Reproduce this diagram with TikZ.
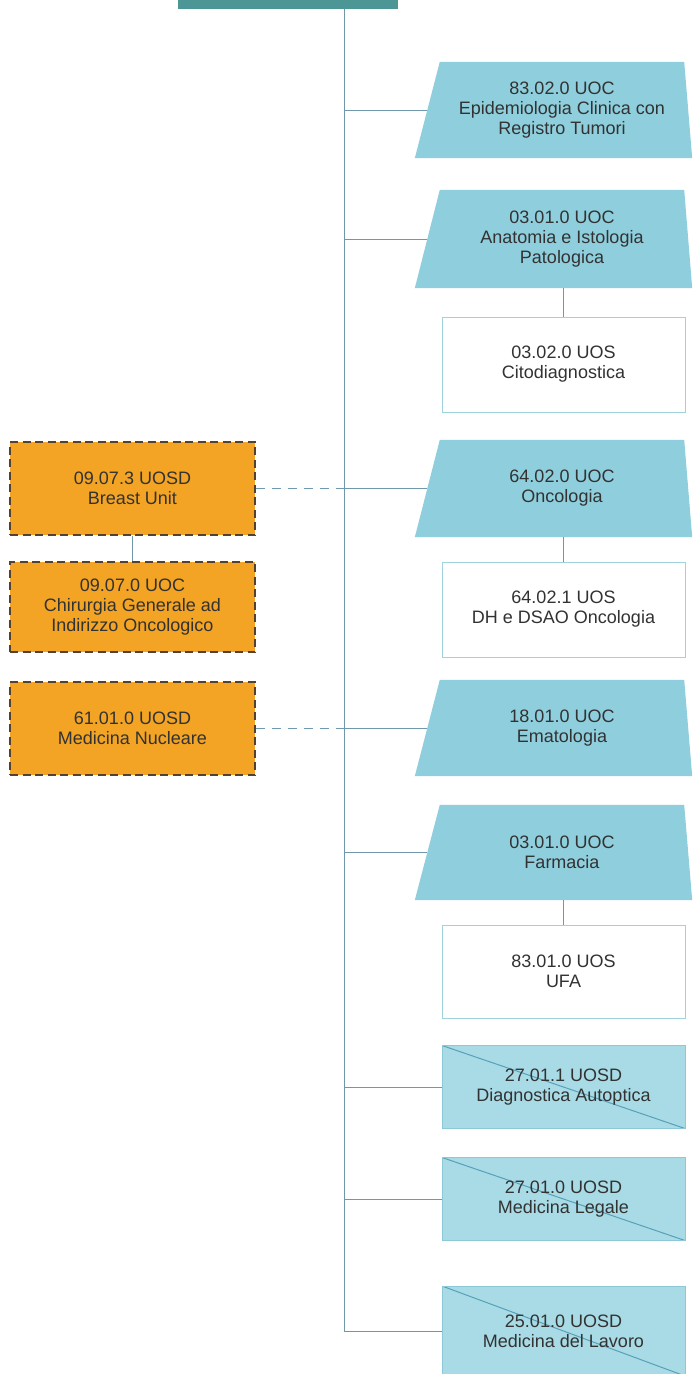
\documentclass[tikz,border=0pt]{standalone}
\usepackage{fontspec}
\setmainfont{Liberation Sans}
\usetikzlibrary{backgrounds}
\definecolor{tealc}{RGB}{76,150,150}
\definecolor{trapc}{RGB}{143,207,221}
\definecolor{hatchc}{RGB}{168,219,229}
\definecolor{hatchb}{RGB}{140,200,214}
\definecolor{diagc}{RGB}{88,160,186}
\definecolor{whiteb}{RGB}{160,210,220}
\definecolor{orangec}{RGB}{243,164,36}
\definecolor{orangeb}{RGB}{85,65,45}
\definecolor{connc}{RGB}{112,152,172}
\definecolor{txtc}{RGB}{50,50,50}
\tikzset{
  lbl/.style={align=center, text=txtc, font=\fontsize{18}{20}\selectfont, inner sep=0pt},
  trapn/.style={lbl, minimum width=244, minimum height=#1},
  whiten/.style={lbl, draw=whiteb, line width=1pt, fill=white, minimum width=243, minimum height=#1},
  hatchn/.style={lbl, draw=hatchb, line width=1pt, fill=hatchc, minimum width=243, minimum height=#1,
    path picture={\draw[diagc, line width=1pt] (path picture bounding box.north west) -- (path picture bounding box.south east);}},
  orangen/.style={lbl, draw=orangeb, fill=orangec, line width=1.6pt, dash pattern=on 8pt off 4.5pt, minimum width=245, minimum height=#1},
  conn/.style={draw=connc, line width=1pt},
  dconn/.style={draw=connc, line width=1pt, dash pattern=on 9pt off 7pt},
}
\newcommand\trapbg[1]{\begin{scope}[on background layer]\fill[trapc] (#1.north west) -- (#1.north east) -- ([xshift=8]#1.south east) -- ([xshift=-25]#1.south west) -- cycle;\end{scope}}
\begin{document}
\begin{tikzpicture}[x=1pt,y=-1pt]
\useasboundingbox (0,0) rectangle (693,1374);
\clip (0,0) rectangle (693,1374);
\begin{scope}[on background layer]
\fill[white] (0,0) rectangle (693,1374);
\end{scope}
% top box
\node[fill=tealc, minimum width=220, minimum height=30, inner sep=0pt] (top) at (288,-6) {};
\coordinate (sp) at (344,0);
% right column
\node[trapn=96] (t1) at (562,110) {83.02.0 UOC\\Epidemiologia Clinica con\\Registro Tumori};
\trapbg{t1}
\node[trapn=98] (t2) at (562,239) {03.01.0 UOC\\Anatomia e Istologia\\Patologica};
\trapbg{t2}
\node[whiten=95] (w1) at (563.5,364.5) {03.02.0 UOS\\Citodiagnostica};
\node[trapn=97] (t3) at (562,488.5) {64.02.0 UOC\\Oncologia};
\trapbg{t3}
\node[whiten=95] (w2) at (563.5,609.5) {64.02.1 UOS\\DH e DSAO Oncologia};
\node[trapn=96] (t4) at (562,728) {18.01.0 UOC\\Ematologia};
\trapbg{t4}
\node[trapn=95] (t5) at (562,852.5) {03.01.0 UOC\\Farmacia};
\trapbg{t5}
\node[whiten=93] (w3) at (563.5,971.5) {83.01.0 UOS\\UFA};
\node[hatchn=83] (r1) at (563.5,1087) {27.01.1 UOSD\\Diagnostica Autoptica};
\node[hatchn=83] (r2) at (563.5,1199) {27.01.0 UOSD\\Medicina Legale};
\node[hatchn=90] (r3) at (563.5,1331) {25.01.0 UOSD\\Medicina del Lavoro};
% left column
\node[orangen=93] (o1) at (132.5,488.5) {09.07.3 UOSD\\Breast Unit};
\node[orangen=90] (o2) at (132.5,607) {09.07.0 UOC\\Chirurgia Generale ad\\Indirizzo Oncologico};
\node[orangen=93] (o3) at (132.5,728.5) {61.01.0 UOSD\\Medicina Nucleare};
% connectors
\draw[conn] (top.south -| sp) -- (r3.west -| sp) -- (r3.west);
\foreach \n in {t1,t2,t3,t4,t5}{\draw[conn] (\n.west -| sp) -- ([xshift=-12.5]\n.west);}
\foreach \n in {r1,r2}{\draw[conn] (\n.west -| sp) -- (\n.west);}
\draw[conn] (t2.south -| w1.north) -- (w1.north);
\draw[conn] (t3.south -| w2.north) -- (w2.north);
\draw[conn] (t5.south -| w3.north) -- (w3.north);
\draw[conn] (o1.south) -- (o2.north);
\draw[dconn] (o1.east) -- (o1.east -| sp);
\draw[dconn] (o3.east) -- (o3.east -| sp);
\end{tikzpicture}
\end{document}
